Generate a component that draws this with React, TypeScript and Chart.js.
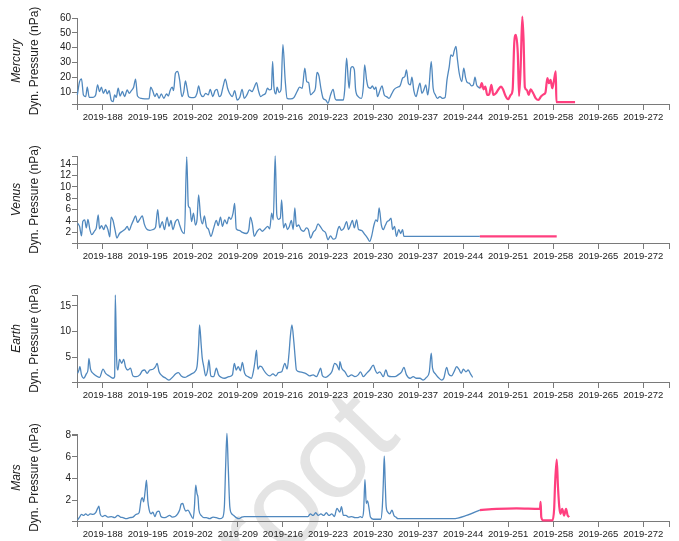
import React, { useEffect, useRef } from "react";
import { Chart, registerables } from "chart.js";
Chart.register(...registerables);

const X_MIN = 184;
const X_MAX = 276;
const X_TICKS = [188, 195, 202, 209, 216, 223, 230, 237, 244, 251, 258, 265, 272];
const X_PREFIX = "2019-";

const PLANETS = ["Mercury", "Venus", "Earth", "Mars"];
const Y_TITLE = "Dyn. Pressure (nPa)";

const MERCURY_Y_RANGE = [2.1, 60];
const MERCURY_Y_TICKS = [10, 20, 30, 40, 50, 60];
const VENUS_Y_RANGE = [0.13, 15.45];
const VENUS_Y_TICKS = [2, 4, 6, 8, 10, 12, 14];
const EARTH_Y_RANGE = [0.22, 17.1];
const EARTH_Y_TICKS = [5, 10, 15];
const MARS_Y_RANGE = [0.09, 8.1];
const MARS_Y_TICKS = [2, 4, 6, 8];

const MERCURY_BLUE: [number, number][] = [
  [184.05, 8.2], [184.4, 17.2], [184.7, 19], [185.0, 8.2], [185.35, 7.1], [185.6, 13.4], [185.9, 6.6],
  [186.5, 6.6], [186.9, 8.2], [187.2, 15], [187.5, 10.5], [187.8, 13.4], [188.1, 9.3], [188.45, 12],
  [188.7, 8.9], [189.0, 11.1], [189.3, 4.8], [189.6, 3.7], [189.85, 8.2], [190.1, 6.6], [190.4, 12.7],
  [190.7, 7.5], [191.05, 10.5], [191.4, 7.1], [191.8, 11.6], [192.1, 9.3], [192.45, 11.1], [192.8, 13.4],
  [193.1, 18.8], [193.4, 7.5], [194.0, 5.9], [194.8, 5.5], [195.2, 5.7], [195.45, 13.4], [195.8, 10.5],
  [196.1, 7.1], [196.4, 9.3], [196.75, 5.9], [197.1, 8.9], [197.5, 5.9], [197.9, 8.9], [198.2, 7.5],
  [198.5, 11.6], [198.8, 13.4], [199.0, 11.1], [199.3, 22.8], [199.65, 24], [199.95, 18.3], [200.3, 7.1],
  [200.6, 10.5], [200.85, 17.7], [201.1, 12.7], [201.35, 7.1], [201.8, 6.4], [202.3, 6.6], [202.65, 9.3],
  [202.9, 14.3], [203.2, 8.9], [203.6, 7.1], [204.0, 9.3], [204.4, 8.2], [204.7, 12], [205.1, 7.1],
  [205.45, 11.1], [205.75, 12], [206.1, 7.1], [206.4, 8.2], [206.7, 13.8], [207.05, 18.8], [207.4, 12.7],
  [207.7, 9.3], [208.15, 7.1], [208.5, 11.1], [208.9, 4.8], [209.3, 6.6], [209.65, 12], [210.0, 5.9],
  [210.4, 8.2], [210.8, 11.6], [211.2, 10.5], [211.55, 13.4], [211.9, 16.5], [212.2, 11.1], [212.55, 7.1],
  [212.9, 8.2], [213.3, 9.3], [213.6, 12.7], [213.9, 11.6], [214.2, 12], [214.4, 30.7], [214.6, 13.8],
  [214.9, 8.9], [215.1, 13.4], [215.4, 9.8], [215.7, 11.6], [216.0, 42], [216.35, 18.3], [216.65, 5.9],
  [217.2, 5.5], [217.7, 6.4], [218.2, 10.5], [218.6, 13.4], [219.0, 12.7], [219.4, 26.2], [219.7, 17.2],
  [220.0, 16.5], [220.3, 8.2], [220.7, 9.8], [221.05, 12.7], [221.3, 23.3], [221.6, 21], [221.9, 12.7],
  [222.25, 5.9], [222.65, 4.8], [223.0, 2.6], [223.4, 8.2], [223.8, 12], [224.1, 5.9], [224.3, 4.8],
  [225.4, 4.8], [225.6, 11.6], [225.9, 33], [226.15, 18.3], [226.3, 12.7], [226.55, 26.2], [226.8, 27.3],
  [227.1, 25], [227.3, 11.6], [227.7, 7.1], [228.2, 5.9], [228.5, 13.8], [228.7, 28.5], [229.0, 18.3],
  [229.25, 13.4], [229.6, 12.7], [229.9, 14.3], [230.2, 12], [230.45, 13.4], [230.7, 7.1], [231.1, 11.6],
  [231.4, 14.3], [231.75, 8.2], [232.1, 7.1], [232.5, 5.9], [232.9, 8.9], [233.3, 12], [233.8, 13.4],
  [234.2, 14.3], [234.6, 19.5], [234.95, 20.6], [235.2, 25], [235.5, 16.1], [235.8, 15], [236.05, 20.1],
  [236.35, 11.1], [236.7, 7.1], [237.0, 12], [237.3, 16.1], [237.6, 9.3], [237.9, 11.6], [238.2, 15],
  [238.5, 8.2], [238.7, 13.4], [239.05, 30.7], [239.35, 12.7], [239.7, 8.2], [240.0, 5.9], [240.4, 7.1],
  [240.8, 5.9], [241.2, 6.4], [241.5, 18.3], [241.85, 27.3], [242.1, 35.2], [242.4, 34.1], [242.6, 37.5],
  [242.9, 40.9], [243.1, 33], [243.4, 22.8], [243.8, 17.2], [244.1, 26.2], [244.4, 19.5], [244.65, 16.5],
  [244.95, 16.1], [245.3, 14.3], [245.6, 15], [245.85, 20.1], [246.1, 15], [246.4, 13.4], [246.65, 12.7],
];

const MERCURY_PINK: [number, number][] = [
  [246.65, 12.7], [246.9, 16.1], [247.2, 12], [247.45, 13.8], [247.75, 8.2], [248.05, 8.6], [248.4, 15],
  [248.7, 8.2], [249.1, 9.3], [249.5, 12], [249.9, 13.8], [250.2, 12], [250.6, 7.5], [251.0, 5.3],
  [251.4, 8.2], [251.7, 11.6], [251.95, 43], [252.2, 48.7], [252.5, 36.4], [252.7, 7.5], [252.95, 27.3],
  [253.2, 61], [253.4, 45.4], [253.6, 13.4], [253.9, 11.6], [254.2, 8.2], [254.5, 12], [254.9, 9.3],
  [255.3, 5.9], [255.7, 4.8], [256.1, 7.1], [256.5, 8.6], [256.8, 9.8], [257.1, 19.5], [257.35, 16.1],
  [257.6, 18.3], [257.85, 12.7], [258.05, 16.1], [258.4, 24], [258.5, 3.4], [261.4, 3.4],
];

const VENUS_BLUE: [number, number][] = [
  [184.1, 3.6], [184.4, 3.05], [184.7, 1.4], [184.9, 3.9], [185.2, 4.2], [185.45, 2.8], [185.7, 4.3],
  [186.0, 2.5], [186.3, 1.6], [186.7, 2.2], [187.0, 2.8], [187.3, 5.1], [187.5, 2.6], [187.8, 3.2],
  [188.15, 2.5], [188.45, 3.3], [188.8, 2.5], [189.1, 1.2], [189.3, 4.7], [189.6, 4.1], [189.9, 2.5],
  [190.2, 1.0], [190.6, 1.8], [191.05, 2.2], [191.5, 2.6], [191.8, 3.05], [192.1, 2.35], [192.45, 3.3],
  [192.8, 4.2], [193.1, 4.9], [193.4, 3.75], [193.75, 4.3], [194.15, 4.9], [194.45, 3.5], [194.8, 2.6],
  [195.3, 2.35], [195.8, 2.5], [196.2, 2.9], [196.55, 6.0], [196.85, 2.8], [197.25, 3.9], [197.6, 2.5],
  [198.0, 4.7], [198.3, 3.05], [198.6, 4.1], [198.9, 2.5], [199.3, 3.9], [199.65, 4.3], [199.95, 3.3],
  [200.3, 2.2], [200.7, 1.8], [201.05, 15.3], [201.3, 6.7], [201.55, 6.3], [201.8, 3.9], [202.1, 5.4],
  [202.4, 3.3], [202.65, 4.2], [202.9, 8.6], [203.2, 4.8], [203.5, 3.5], [203.8, 4.9], [204.1, 3.05],
  [204.45, 2.5], [204.8, 1.3], [205.25, 2.8], [205.65, 4.1], [205.95, 3.2], [206.3, 4.7], [206.6, 3.05],
  [206.95, 4.2], [207.3, 3.5], [207.6, 4.7], [207.9, 4.3], [208.25, 5.4], [208.5, 7.1], [208.75, 2.6],
  [209.2, 2.35], [209.7, 2.0], [210.3, 1.8], [210.7, 2.5], [210.95, 4.7], [211.25, 3.5], [211.55, 1.3],
  [212.0, 2.2], [212.4, 2.6], [212.8, 2.2], [213.2, 2.6], [213.65, 3.05], [213.95, 2.6], [214.25, 5.4],
  [214.5, 4.2], [214.8, 15.45], [215.05, 5.1], [215.3, 4.3], [215.6, 4.5], [215.8, 7.7], [216.1, 2.8],
  [216.4, 3.6], [216.7, 2.5], [217.0, 3.05], [217.3, 4.1], [217.6, 2.5], [217.85, 6.3], [218.1, 3.05],
  [218.45, 3.3], [218.8, 2.5], [219.25, 2.2], [219.65, 2.8], [219.95, 2.5], [220.3, 1.0], [220.7, 2.0],
  [221.1, 2.5], [221.45, 3.5], [221.8, 3.05], [222.2, 2.35], [222.65, 1.9], [223.0, 0.7], [223.4, 1.4],
  [223.8, 0.8], [224.2, 1.0], [224.55, 2.6], [224.75, 3.05], [225.1, 2.35], [225.5, 2.8], [225.9, 3.9],
  [226.2, 2.5], [226.5, 3.3], [226.8, 4.1], [227.1, 2.8], [227.45, 4.2], [227.75, 2.5], [228.2, 2.35],
  [228.75, 1.6], [229.15, 1.0], [229.5, 0.4], [229.8, 1.4], [230.15, 3.3], [230.45, 4.2], [230.7, 3.9],
  [230.95, 6.3], [231.3, 3.3], [231.6, 2.5], [231.9, 3.2], [232.2, 3.9], [232.5, 4.1], [232.8, 4.5],
  [233.05, 2.5], [233.35, 3.05], [233.65, 1.3], [234.0, 2.5], [234.3, 1.8], [234.6, 2.5], [234.8, 1.3],
  [246.6, 1.3],
];

const VENUS_PINK: [number, number][] = [[246.6, 1.3], [258.55, 1.3]];

const EARTH_BLUE: [number, number][] = [
  [184.1, 1.9], [184.3, 2.55], [184.45, 3.2], [184.7, 1.6], [185.05, 0.95], [185.45, 1.8], [185.7, 2.55],
  [185.85, 4.8], [186.1, 2.7], [186.5, 1.9], [187.0, 1.4], [187.5, 1.1], [188.05, 2.7], [188.45, 1.9],
  [189.0, 1.4], [189.6, 0.95], [189.85, 1.25], [189.95, 17.1], [190.15, 5.1], [190.35, 2.55], [190.6, 4.6],
  [190.95, 3.85], [191.25, 4.6], [191.55, 3.1], [191.9, 2.55], [192.3, 2.9], [192.7, 1.4], [193.2, 1.25],
  [193.75, 1.6], [194.15, 2.4], [194.5, 2.55], [194.9, 1.9], [195.3, 2.55], [195.8, 2.7], [196.2, 3.2],
  [196.45, 3.85], [196.75, 2.2], [197.25, 1.4], [197.8, 0.95], [198.3, 0.6], [198.8, 1.1], [199.35, 1.8],
  [199.75, 2.05], [200.2, 1.4], [200.75, 1.1], [201.25, 1.4], [201.8, 1.8], [202.3, 2.2], [202.65, 3.2],
  [202.9, 7.4], [203.05, 11.3], [203.3, 7.4], [203.45, 5.0], [203.7, 3.2], [204.0, 1.4], [204.3, 2.55],
  [204.5, 4.5], [204.8, 1.4], [205.25, 1.25], [205.65, 2.9], [206.0, 1.6], [206.45, 1.1], [206.95, 0.95],
  [207.6, 1.25], [208.15, 1.6], [208.45, 3.85], [208.75, 2.55], [209.05, 3.2], [209.4, 2.4], [209.7, 4.0],
  [210.05, 1.9], [210.6, 1.25], [211.1, 0.95], [211.45, 2.55], [211.65, 4.15], [211.9, 6.4], [212.1, 2.7],
  [212.4, 3.3], [212.7, 3.2], [213.0, 2.55], [213.45, 1.8], [213.95, 1.4], [214.45, 1.8], [214.9, 1.4],
  [215.3, 2.05], [215.8, 2.2], [216.3, 3.85], [216.65, 2.7], [216.95, 5.8], [217.15, 9.0], [217.4, 11.3],
  [217.7, 8.0], [217.9, 5.0], [218.1, 2.55], [218.6, 2.2], [219.15, 2.05], [219.65, 1.8], [220.15, 1.4],
  [220.7, 1.6], [221.2, 1.25], [221.6, 2.2], [221.85, 2.9], [222.15, 1.4], [222.65, 1.1], [223.2, 1.6],
  [223.6, 2.2], [224.05, 3.85], [224.4, 3.5], [224.75, 2.55], [224.85, 4.15], [225.15, 2.9], [225.65, 2.2],
  [226.15, 1.25], [226.65, 1.6], [227.2, 1.25], [227.7, 1.6], [228.05, 2.2], [228.5, 1.25], [229.0, 1.9],
  [229.5, 2.55], [230.05, 3.5], [230.35, 2.55], [230.65, 1.9], [231.05, 2.2], [231.6, 1.25], [232.0, 2.55],
  [232.35, 1.4], [232.9, 1.25], [233.4, 1.25], [233.9, 1.6], [234.45, 2.2], [234.8, 3.05], [235.2, 1.6],
  [235.75, 0.95], [236.25, 1.25], [236.75, 0.95], [237.3, 0.95], [237.8, 0.6], [238.3, 1.1], [238.75, 2.2],
  [239.05, 5.8], [239.25, 2.9], [239.7, 1.8], [240.15, 1.1], [240.65, 0.6], [241.0, 0.95], [241.45, 3.05],
  [241.75, 1.8], [242.2, 1.4], [242.6, 2.2], [243.0, 3.2], [243.35, 2.7], [243.7, 1.9], [244.05, 2.7],
  [244.45, 2.2], [244.8, 2.55], [245.15, 1.8], [245.5, 1.1],
];

const MARS_BLUE: [number, number][] = [
  [184.1, 0.2], [184.4, 0.45], [184.7, 0.7], [185.05, 0.6], [185.35, 0.75], [185.7, 0.6], [186.05, 0.75],
  [186.5, 0.7], [186.9, 0.85], [187.2, 1.25], [187.4, 1.45], [187.6, 0.75], [187.95, 0.5], [188.35, 0.6],
  [188.8, 0.45], [189.35, 0.5], [189.85, 0.4], [190.35, 0.6], [190.75, 0.45], [191.15, 0.4], [191.65, 0.3],
  [192.2, 0.4], [192.7, 0.45], [193.2, 0.7], [193.65, 0.85], [193.95, 2.0], [194.15, 2.25], [194.35, 1.85],
  [194.6, 2.9], [194.8, 3.85], [195.0, 2.0], [195.2, 1.15], [195.5, 0.75], [195.8, 0.9], [196.1, 0.5],
  [196.4, 0.9], [196.75, 1.0], [197.05, 0.5], [197.5, 0.4], [197.9, 0.45], [198.4, 0.6], [198.8, 0.45],
  [199.25, 0.5], [199.65, 0.75], [199.95, 1.1], [200.2, 1.65], [200.45, 1.7], [200.65, 1.3], [200.9, 1.0],
  [201.25, 1.1], [201.6, 0.75], [202.05, 0.3], [202.25, 1.4], [202.45, 3.4], [202.65, 2.6], [202.8, 2.3],
  [202.95, 1.1], [203.3, 0.6], [203.7, 0.4], [204.1, 0.4], [204.6, 0.3], [205.15, 0.45], [205.65, 0.4],
  [206.2, 0.3], [206.6, 0.4], [206.9, 1.4], [207.1, 5.1], [207.3, 8.15], [207.5, 5.1], [207.75, 1.4],
  [208.05, 0.75], [208.35, 0.6], [208.75, 0.4], [209.2, 0.3], [209.6, 0.45], [210.0, 0.5], [219.9, 0.5],
  [220.25, 0.75], [220.7, 0.6], [221.1, 0.85], [221.5, 0.6], [221.9, 0.75], [222.35, 0.6], [222.75, 0.85],
  [223.15, 0.6], [223.6, 0.75], [224.0, 0.5], [224.4, 1.25], [224.85, 0.9], [225.1, 1.4], [225.4, 0.6],
  [225.8, 0.6], [226.2, 0.45], [226.7, 0.5], [227.2, 0.4], [227.7, 0.4], [228.05, 0.5], [228.3, 0.4],
  [228.55, 1.1], [228.75, 3.9], [228.95, 1.7], [229.15, 1.95], [229.35, 1.4], [229.6, 0.45], [230.05, 0.25],
  [230.55, 0.25], [231.2, 0.25], [231.45, 1.4], [231.6, 3.55], [231.75, 6.05], [231.9, 3.55], [232.05, 1.4],
  [232.3, 0.9], [232.6, 0.75], [232.95, 1.1], [233.25, 0.6], [233.55, 0.45], [233.9, 0.3], [242.45, 0.3],
  [244.55, 0.6], [246.6, 1.1],
];

const MARS_PINK: [number, number][] = [
  [246.6, 1.1], [249.2, 1.2], [252.3, 1.25], [255.95, 1.2], [256.05, 1.85], [256.15, 0.45], [256.45, 0.15],
  [257.9, 0.15], [258.15, 1.2], [258.3, 3.55], [258.55, 5.75], [258.75, 3.2], [258.95, 1.4], [259.15, 0.75],
  [259.4, 1.2], [259.7, 0.6], [260.0, 1.2], [260.25, 0.6], [260.5, 0.45],
];

const BLUE = "#5088be";
const PINK = "#ff3f7f";
const AXIS = "#7a7a7a";
const TEXT = "#222222";
const FONT = '"Liberation Sans", Arial, sans-serif';

type Panel = {
  name: string;
  blue: [number, number][];
  pink: [number, number][] | null;
  range: number[];
  ticks: number[];
  top: number;
};

const PANELS: Panel[] = [
  { name: PLANETS[0], blue: MERCURY_BLUE, pink: MERCURY_PINK, range: MERCURY_Y_RANGE, ticks: MERCURY_Y_TICKS, top: 18 },
  { name: PLANETS[1], blue: VENUS_BLUE, pink: VENUS_PINK, range: VENUS_Y_RANGE, ticks: VENUS_Y_TICKS, top: 17 },
  { name: PLANETS[2], blue: EARTH_BLUE, pink: null, range: EARTH_Y_RANGE, ticks: EARTH_Y_TICKS, top: 17 },
  { name: PLANETS[3], blue: MARS_BLUE, pink: MARS_PINK, range: MARS_Y_RANGE, ticks: MARS_Y_TICKS, top: 17 },
];

function PanelChart({ panel, offset }: { panel: Panel; offset: number }) {
  const ref = useRef<HTMLCanvasElement | null>(null);
  useEffect(() => {
    if (!ref.current) return;
    const toXY = (arr: [number, number][]) => arr.map(([x, y]) => ({ x, y }));
    const datasets: any[] = [
      {
        data: toXY(panel.blue),
        borderColor: BLUE,
        borderWidth: 1.3,
        pointRadius: 0,
        cubicInterpolationMode: "monotone",
        clip: false,
      },
    ];
    if (panel.pink) {
      datasets.push({
        data: toXY(panel.pink),
        borderColor: PINK,
        borderWidth: 2.2,
        pointRadius: 0,
        cubicInterpolationMode: "monotone",
        clip: false,
      });
    }
    const titlePlugin = {
      id: "sideTitles",
      afterDraw(chart: any) {
        const { ctx, chartArea } = chart;
        const mid = (chartArea.top + chartArea.bottom) / 2;
        ctx.save();
        ctx.fillStyle = TEXT;
        ctx.textAlign = "center";
        ctx.textBaseline = "middle";
        ctx.translate(17, mid);
        ctx.rotate(-Math.PI / 2);
        ctx.font = `italic 12px ${FONT}`;
        ctx.fillText(panel.name, 0, 0);
        ctx.restore();
        ctx.save();
        ctx.fillStyle = TEXT;
        ctx.textAlign = "center";
        ctx.textBaseline = "middle";
        ctx.translate(35, mid);
        ctx.rotate(-Math.PI / 2);
        ctx.font = `12px ${FONT}`;
        ctx.fillText(Y_TITLE, 0, 0);
        ctx.restore();
      },
    };
    const [yMin, yMax] = panel.range;
    const yTickVals = Array.from(new Set([yMin, ...panel.ticks, yMax])).sort((a, b) => a - b);
    const xTickVals = [X_MIN, ...X_TICKS, X_MAX];
    const chart = new Chart(ref.current, {
      type: "line",
      data: { datasets },
      options: {
        animation: false,
        responsive: false,
        devicePixelRatio: 1,
        events: [],
        layout: { padding: { top: panel.top, right: 10, left: 0, bottom: 0 } },
        plugins: { legend: { display: false }, tooltip: { enabled: false } },
        scales: {
          x: {
            type: "linear",
            min: X_MIN,
            max: X_MAX,
            afterBuildTicks: (s: any) => {
              s.ticks = xTickVals.map((v) => ({ value: v }));
            },
            afterFit: (s: any) => {
              s.height = 35;
            },
            ticks: {
              autoSkip: false,
              maxRotation: 0,
              minRotation: 0,
              padding: 2,
              color: TEXT,
              font: { family: FONT, size: 9.5 },
              callback: (v: any) => (X_TICKS.includes(v) ? X_PREFIX + v : ""),
            },
            grid: { drawOnChartArea: false, drawTicks: true, tickLength: 6, color: AXIS },
            border: { display: true, color: AXIS, width: 1 },
          },
          y: {
            type: "linear",
            min: yMin,
            max: yMax,
            afterBuildTicks: (s: any) => {
              s.ticks = yTickVals.map((v) => ({ value: v }));
            },
            afterFit: (s: any) => {
              s.width = 77;
            },
            ticks: {
              autoSkip: false,
              padding: 1,
              color: TEXT,
              font: { family: FONT, size: 10 },
              callback: (v: any) => (panel.ticks.includes(v) ? String(v) : ""),
            },
            grid: { drawOnChartArea: false, drawTicks: true, tickLength: 5, color: AXIS },
            border: { display: true, color: AXIS, width: 1 },
          },
        },
      } as any,
      plugins: [titlePlugin],
    });
    return () => chart.destroy();
  }, [panel]);
  return (
    <canvas
      ref={ref}
      width={679}
      height={139}
      style={{ position: "absolute", left: 0, top: offset, width: 679, height: 139, zIndex: 1 }}
    />
  );
}

export default function App() {
  return (
    <div
      style={{
        position: "absolute",
        left: 0,
        top: 0,
        width: 679,
        height: 541,
        overflow: "hidden",
        background: "#ffffff",
      }}
    >
      <div
        style={{
          position: "absolute",
          left: 300,
          top: 484,
          transform: "translate(-50%, -50%) rotate(-46deg)",
          fontFamily: FONT,
          fontSize: 120,
          lineHeight: 1,
          color: "#e4e4e4",
          whiteSpace: "nowrap",
          zIndex: 0,
          pointerEvents: "none",
        }}
      >
        root
      </div>
      {PANELS.map((p, i) => (
        <PanelChart key={p.name} panel={p} offset={i * 139} />
      ))}
    </div>
  );
}
